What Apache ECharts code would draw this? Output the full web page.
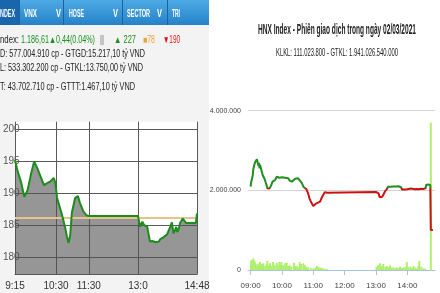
<!DOCTYPE html>
<html><head><meta charset="utf-8">
<script src="https://cdn.jsdelivr.net/npm/echarts@6/dist/echarts.min.js"></script>
<style>html,body{margin:0;padding:0;background:#fff}#c{width:440px;height:293px}</style>
</head><body><div id="c"></div>
<script>
// ---------- LEFT (VN-Index intraday) ----------
const leftTimes = ['9:15','9:20','9:26','9:32','9:38','9:44','9:50','9:56','10:02','10:08','10:14','10:20','10:26','10:29','10:32','10:41','10:47','10:50','10:53','10:56','10:59','11:05','11:10','11:14','11:20','11:26','11:30','13:00','13:04','13:08','13:11','13:17','13:22','13:26','13:29','13:32','13:35','13:38','13:41','13:44','13:47','13:50','13:53','13:56','13:59','14:02','14:05','14:08','14:10','14:12','14:15','14:17','14:22','14:25','14:28','14:46','14:48'];
const leftValues = [1195.2,1193.4,1191.8,1189.5,1190.5,1192.9,1195.0,1193.9,1192.6,1191.3,1191.6,1191.9,1192.4,1191.6,1189.3,1186.7,1184.6,1183.3,1182.3,1183.5,1187.0,1189.3,1189.6,1188.5,1187.2,1186.6,1186.5,1186.5,1184.8,1185.6,1185.1,1184.8,1182.5,1182.6,1182.3,1182.4,1182.7,1182.5,1182.9,1182.7,1183.2,1183.0,1183.6,1183.8,1184.8,1185.5,1183.8,1184.3,1184.8,1184.0,1184.6,1185.4,1186.1,1186.4,1185.4,1185.4,1186.9];
const leftPrevClose = 1186.17;
const leftTickTimes = ['9:15','10:30','11:30','13:00','14:48'];
const leftTickLabels = ['9:15','10:30','11:30','13:0','14:48'];

// ---------- RIGHT (HNX Index intraday) ----------
const rightRef = 240;
const rightIdxTimes = ['09:00','09:01','09:02','09:03','09:04','09:05','09:07','09:09','09:10','09:11','09:12','09:13','09:15','09:16','09:17','09:18','09:19','09:21','09:23','09:25','09:27','09:29','09:31','09:32','09:34','09:36','09:37','09:39','09:42','09:45','09:47','09:50','09:53','09:55','09:57','10:00','10:03','10:06','10:09','10:12','10:15','10:19','10:22','10:25','10:28','10:31','10:34','10:38','10:41','10:44','10:47','10:50','10:53','10:57','11:00','11:03','11:06','11:09','11:13','11:16','11:19','11:22','11:24','11:27','11:29','11:30','13:00','13:03','13:05','13:07','13:10','13:12','13:15','13:17','13:19','13:21','13:23','13:25','13:28','13:31','13:33','13:36','13:38','13:40','13:43','13:46','13:48','13:50','13:53','13:56','14:00','14:03','14:06','14:10','14:14','14:18','14:22','14:26','14:30','14:33','14:35','14:36','14:40','14:44','14:45','14:49'];
const rightIdxValues = [240.11,240.5,240.78,240.6,241.2,241.78,242.3,242.6,242.78,242.5,242.85,242.68,242.2,242.5,241.95,242.3,242.18,241.7,241.28,241.1,240.85,240.5,240.2,239.95,239.9,239.93,239.95,240.2,240.61,240.7,240.78,241.1,241.28,241.0,241.2,241.05,240.9,241.0,240.85,240.95,240.7,240.61,240.75,240.9,240.85,240.95,240.78,240.5,240.11,239.95,239.85,239.45,238.9,238.45,238.18,238.3,238.45,238.5,238.61,239.0,239.28,239.55,239.51,239.5,239.45,239.58,239.58,239.5,239.45,239.05,239.1,239.11,239.4,239.61,239.8,239.88,240.1,240.13,240.1,240.15,240.13,240.05,240.12,240.08,240.15,240.18,240.05,239.83,239.88,239.83,239.85,239.9,239.92,239.9,239.85,239.88,239.85,239.9,239.88,239.93,239.95,240.28,240.33,240.28,235.78,235.78];
const rightVolTimes = ['09:01','09:02','09:04','09:05','09:07','09:08','09:10','09:13','09:15','09:18','09:20','09:22','09:24','09:27','09:30','09:32','09:34','09:37','09:40','09:43','09:46','09:50','09:52','09:55','09:57','09:59','10:02','10:06','10:09','10:12','10:15','10:18','10:23','10:26','10:29','10:32','10:34','10:37','10:41','10:44','10:46','10:50','10:55','11:00','11:04','11:07','11:10','11:13','11:16','11:19','11:23','11:26','13:01','13:04','13:08','13:11','13:14','13:18','13:21','13:24','13:27','13:30','13:33','13:37','13:40','13:43','13:46','13:50','13:53','13:56','13:59','14:02','14:06','14:09','14:12','14:15','14:18','14:21','14:23','14:27','14:31','14:34','14:45'];
const rightVolValues = [220000,250000,180000,290000,240000,200000,150000,120000,160000,200000,120000,150000,170000,100000,140000,230000,120000,170000,100000,200000,130000,180000,120000,200000,140000,200000,120000,170000,180000,100000,120000,80000,180000,100000,100000,60000,200000,150000,170000,120000,80000,70000,50000,40000,60000,100000,70000,60000,50000,40000,30000,20000,80000,120000,170000,100000,150000,80000,100000,70000,120000,60000,60000,50000,60000,50000,80000,50000,60000,70000,200000,80000,80000,50000,100000,60000,40000,100000,230000,80000,40000,30000,3700000];
const rightTickLabels = ['09:00','10:00','11:00','12:00','13:00','14:00'];

// ---------- TEXT ----------
const tabLabels = ['NDEX','VNX','HOSE','SECTOR','TRI'];
const infoLine1 = ['ndex:','1.186,61\u25B20,44(0.04%)','||','\u25B2 227','\u25A078','\u25BC190'];
const infoLine2 = 'D: 577.004.910 cp - GTGD:15.217,10 tỷ VND';
const infoLine3 = 'L: 533.302.200 cp - GTKL:13.750,00 tỷ VND';
const infoLine4 = 'T: 43.702.710 cp - GTTT:1.467,10 tỷ VND';
const rightTitle = 'HNX Index - Phiên giao dịch trong ngày 02/03/2021';
const rightSubtitle = 'KLKL: 111.023.800 - GTKL: 1.941.026.540.000';

// categories (one per minute)
const leftCats = [];
for (let m = 555; m <= 888; m++) leftCats.push(Math.floor(m/60) + ':' + String(m%60).padStart(2,'0'));
const rightCats = [];
for (let m = 535; m <= 893; m++) rightCats.push(String(Math.floor(m/60)).padStart(2,'0') + ':' + String(m%60).padStart(2,'0'));

const leftData = leftTimes.map((t,i)=>[t,leftValues[i]]);
const rightIdxData = rightIdxTimes.map((t,i)=>[t,rightIdxValues[i]]);
const rightVolData = rightVolTimes.map((t,i)=>[t,rightVolValues[i]]);

const FAM = "'Liberation Sans', Arial, sans-serif";
const NAR = "'Liberation Sans Narrow', 'Liberation Sans', Arial, sans-serif";
const mctx = document.createElement('canvas').getContext('2d');
function T(str, x, y, w, o) {
  o = o || {};
  const size = o.size || 10, weight = o.weight || 'normal';
  const font = weight + ' ' + size + 'px ' + FAM;
  mctx.font = font;
  const mw = mctx.measureText(str).width || 1;
  const align = o.align || 'left';
  return {type:'text', x:x, y:y, scaleX: w ? w/mw : 1, scaleY: o.sy || 1, z: 100, silent: true,
    style:{text:str, x:0, y:0, fill:o.color || '#222', font:font, textAlign:align, textVerticalAlign:'middle', align:align, verticalAlign:'middle'}};
}
const fmtDots = v => String(v).replace(/\B(?=(\d{3})+(?!\d))/g, '.');

const graphics = [
  {type:'rect', z:-5, silent:true, shape:{x:0,y:0,width:209,height:293}, style:{fill:'#f3f3f3'}},
  {type:'rect', z:-4, silent:true, shape:{x:0,y:0,width:209,height:25},
    style:{fill:new echarts.graphic.LinearGradient(0,0,0,1,[{offset:0,color:'#4eaae4'},{offset:1,color:'#2582c8'}])}},
  {type:'rect', z:-3, silent:true, shape:{x:0,y:0,width:19,height:25}, style:{fill:'#1a66ad'}},
  {type:'line', z:-2, silent:true, shape:{x1:19.5,y1:0,x2:19.5,y2:25}, style:{stroke:'#1d62a0',lineWidth:1}},
  {type:'line', z:-2, silent:true, shape:{x1:63.5,y1:0,x2:63.5,y2:25}, style:{stroke:'#1d62a0',lineWidth:1}},
  {type:'line', z:-2, silent:true, shape:{x1:122.5,y1:0,x2:122.5,y2:25}, style:{stroke:'#1d62a0',lineWidth:1}},
  {type:'line', z:-2, silent:true, shape:{x1:167.5,y1:0,x2:167.5,y2:25}, style:{stroke:'#1d62a0',lineWidth:1}},
  T(tabLabels[0], 0, 14, 15, {weight:'bold', color:'#fff'}),
  T(tabLabels[1], 24, 14, 13, {weight:'bold', color:'#fff'}),
  T('V', 56, 14, 5, {weight:'bold', color:'#fff'}),
  T(tabLabels[2], 69, 14, 15, {weight:'bold', color:'#fff'}),
  T('V', 113, 14, 5, {weight:'bold', color:'#fff'}),
  T(tabLabels[3], 127, 14, 23, {weight:'bold', color:'#fff'}),
  T('V', 157, 14, 5, {weight:'bold', color:'#fff'}),
  T(tabLabels[4], 172, 14, 8, {weight:'bold', color:'#fff'}),
  T(infoLine1[0], 0, 40, 19, {color:'#222'}),
  T(infoLine1[1], 21, 40, 74, {color:'#1a8f1a'}),
  T(infoLine1[2], 100, 40, 4, {color:'#666'}),
  T(infoLine1[3], 114, 40, 22, {color:'#1a8f1a'}),
  T(infoLine1[4], 143, 40, 12, {color:'#f0a33c'}),
  T(infoLine1[5], 163, 40, 17, {color:'#e01010'}),
  T(infoLine2, 0, 54, 145, {color:'#222'}),
  T(infoLine3, 0, 68, 143, {color:'#222'}),
  T(infoLine4, 0, 87.5, 135, {color:'#222'}),
  T(rightTitle, 337, 30, 158, {weight:'bold', size:14, color:'#222', align:'center'}),
  T(rightSubtitle, 337, 53, 122, {size:11, color:'#222', align:'center'})
];

const chart = echarts.init(document.getElementById('c'), null, {renderer:'canvas'});
const option = {
  animation:false,
  backgroundColor:'#ffffff',
  graphic:{elements:graphics},
  grid:[
    {left:12, top:121.7, width:185, height:152.6, show:true, backgroundColor:'#ffffff', borderWidth:0},
    {left:248, top:110.7, width:187, height:159.3}
  ],
  xAxis:[
    {gridIndex:0, type:'category', boundaryGap:false, data:leftCats,
      axisLine:{show:true, lineStyle:{color:'#5a5a5a', width:1}},
      axisTick:{show:false},
      axisLabel:{interval:(i,v)=>leftTickTimes.includes(v), formatter:v=>leftTickLabels[leftTickTimes.indexOf(v)],
        color:'#333', fontSize:10, margin:7, fontFamily:FAM},
      splitLine:{show:true, interval:(i,v)=>leftTickTimes.includes(v), lineStyle:{color:'#5a5a5a', width:1}}},
    {gridIndex:1, type:'category', boundaryGap:false, data:rightCats,
      axisLine:{show:true, lineStyle:{color:'#a8c4e4', width:1}},
      axisTick:{show:true, interval:(i,v)=>rightTickLabels.includes(v), length:5, lineStyle:{color:'#a8c4e4'}},
      axisLabel:{interval:(i,v)=>rightTickLabels.includes(v), color:'#444', fontSize:8, margin:12, fontFamily:NAR},
      splitLine:{show:false}}
  ],
  yAxis:[
    {gridIndex:0, type:'value', min:1177.41, max:1201.18,
      axisLine:{show:false}, axisTick:{show:false},
      axisLabel:{showMinLabel:false, showMaxLabel:false, formatter:v=>String(Math.round(v)-1000), align:'left', margin:12, color:'#555', fontSize:10, fontFamily:FAM},
      splitLine:{show:true, showMaxLine:false, lineStyle:{color:'#5a5a5a', width:1}}},
    {gridIndex:1, type:'value', min:0, max:4000000, interval:2000000,
      axisLine:{show:false}, axisTick:{show:false},
      axisLabel:{formatter:fmtDots, color:'#444', fontSize:7, margin:7, fontFamily:NAR},
      splitLine:{show:true, lineStyle:{color:'#d4d4d4', width:1}}},
    {gridIndex:1, type:'value', min:231.78, max:247.71, show:false, splitLine:{show:false}}
  ],
  series:[
    {type:'line', xAxisIndex:0, yAxisIndex:0, data:leftData, symbol:'none', z:2,
      lineStyle:{width:0}, areaStyle:{origin:'start', color:'rgba(80,80,80,0.6)', opacity:1}},
    {type:'line', xAxisIndex:0, yAxisIndex:0, data:[[leftTickTimes[0],leftPrevClose],[leftTickTimes[4],leftPrevClose]],
      symbol:'none', z:3, lineStyle:{color:'#e8c48c', width:2}},
    {type:'line', xAxisIndex:0, yAxisIndex:0, data:leftData, symbol:'none', z:4,
      lineStyle:{color:'#1c8c1c', width:2}},
    {type:'bar', xAxisIndex:1, yAxisIndex:1, data:rightVolData, barWidth:2, z:2,
      itemStyle:{color:'#aef06e'}},
    {type:'line', xAxisIndex:1, yAxisIndex:2, data:rightIdxData, symbol:'none', z:4,
      lineStyle:{width:2, color:'#cc1111'}}
  ]
};
chart.setOption(option);
// split colour of the HNX line at the reference level (green above, red below)
const refY = chart.convertToPixel({yAxisIndex:2}, rightRef);
const H = 293, o = Math.min(Math.max(refY / H, 0), 1);
chart.setOption({series:[{},{},{},{},{lineStyle:{color:new echarts.graphic.LinearGradient(0,0,0,H,[
  {offset:0,color:'#1f8f1f'},{offset:o,color:'#1f8f1f'},{offset:o,color:'#cc1111'},{offset:1,color:'#cc1111'}], true)}}]});
</script></body></html>
